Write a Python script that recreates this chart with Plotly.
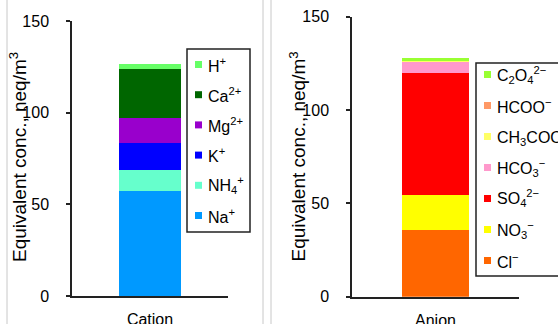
import plotly.graph_objects as go

# ---------------- data ----------------
cation_category = ["Cation"]
cation_names = ["Na<sup>+</sup>", "NH<sub>4</sub><sup>+</sup>", "K<sup>+</sup>",
                "Mg<sup>2+</sup>", "Ca<sup>2+</sup>", "H<sup>+</sup>"]
cation_values = [57.2, 11.7, 14.4, 13.8, 26.7, 2.7]
cation_colors = ["#0099FF", "#66FFCC", "#0000FF", "#9900CC", "#006600", "#66FF66"]

anion_category = ["Anion"]
anion_names = ["Cl<sup>−</sup>", "NO<sub>3</sub><sup>−</sup>", "SO<sub>4</sub><sup>2−</sup>",
               "HCO<sub>3</sub><sup>−</sup>", "CH<sub>3</sub>COO<sup>−</sup>",
               "HCOO<sup>−</sup>", "C<sub>2</sub>O<sub>4</sub><sup>2−</sup>"]
anion_values = [35.7, 18.6, 65.4, 6.7, 0.1, 0.2, 1.0]
anion_colors = ["#FF6600", "#FFFF00", "#FF0000", "#FF99CC", "#FFFF66", "#FF9966", "#99FF33"]

y_ticks = [0, 50, 100, 150]
y_title = "Equivalent conc., neq/m<sup>3</sup>"

# ---------------- layout helpers ----------------
W, H = 558, 324
FONT = "Arial, Liberation Sans, sans-serif"


def px(x):
    return x / W


def py(y):
    return 1 - y / H


fig = go.Figure()

for name, val, col in zip(cation_names, cation_values, cation_colors):
    fig.add_trace(go.Bar(x=cation_category, y=[val], name=name, marker_color=col,
                         marker_line_width=0, width=0.4, xaxis="x", yaxis="y",
                         showlegend=False))
for name, val, col in zip(anion_names, anion_values, anion_colors):
    fig.add_trace(go.Bar(x=anion_category, y=[val], name=name, marker_color=col,
                         marker_line_width=0, width=0.4, xaxis="x2", yaxis="y2",
                         showlegend=False))

axis_common = dict(showline=True, linecolor="#222222", linewidth=1.5, showgrid=False,
                   zeroline=False, tickfont=dict(family=FONT, size=16, color="#000000"))

fig.update_layout(
    width=W, height=H,
    margin=dict(l=0, r=0, t=0, b=0, autoexpand=False),
    paper_bgcolor="white", plot_bgcolor="white",
    barmode="stack", showlegend=False,
    xaxis=dict(domain=[px(72), px(228)], range=[-0.5, 0.5], anchor="y",
               ticks="", ticklabelstandoff=8, **axis_common),
    yaxis=dict(domain=[py(296), py(21)], range=[0, 150], anchor="x",
               tickvals=y_ticks, ticks="outside", ticklen=4, tickwidth=1.5,
               tickcolor="#222222", ticklabelstandoff=14, **axis_common),
    xaxis2=dict(domain=[px(352), px(519)], range=[-0.5, 0.5], anchor="y2",
                ticks="", ticklabelstandoff=8, **axis_common),
    yaxis2=dict(domain=[py(296.7), py(16.7)], range=[0, 150], anchor="x2",
                tickvals=y_ticks, ticks="outside", ticklen=4, tickwidth=1.5,
                tickcolor="#222222", ticklabelstandoff=14, **axis_common),
)

shapes = []
annotations = []

# chart-area borders (light grey separators)
for xl in (7, 263, 271):
    shapes.append(dict(type="line", xref="paper", yref="paper", x0=px(xl), x1=px(xl),
                       y0=0, y1=1, line=dict(color="#C8C8C8", width=1)))

# axis titles
for xc in (18, 297.5):
    annotations.append(dict(text=y_title, xref="paper", yref="paper", x=px(xc), y=py(157),
                            xanchor="center", yanchor="middle", textangle=-90,
                            showarrow=False,
                            font=dict(family=FONT, size=19, color="#000000")))


def add_legend(names, colors, box, first_y, step):
    x0, y0, x1, y1 = box
    shapes.append(dict(type="rect", xref="paper", yref="paper", x0=px(x0), x1=px(x1),
                       y0=py(y1), y1=py(y0), line=dict(color="#222222", width=1.5),
                       fillcolor="white", layer="above"))
    for i, (nm, col) in enumerate(zip(reversed(names), reversed(colors))):
        yc = first_y + i * step
        shapes.append(dict(type="rect", xref="paper", yref="paper",
                           x0=px(x0 + 8), x1=px(x0 + 15), y0=py(yc + 3.5), y1=py(yc - 3.5),
                           line=dict(width=0), fillcolor=col, layer="above"))
        annotations.append(dict(text=nm, xref="paper", yref="paper", x=px(x0 + 19),
                                y=py(yc), xanchor="left", yanchor="middle",
                                showarrow=False,
                                font=dict(family=FONT, size=16, color="#000000")))


add_legend(cation_names, cation_colors, (187, 49, 250, 232), 64.5, 30.2)
add_legend(anion_names, anion_colors, (476, 63, 640, 276), 74.5, 31.0)

fig.update_layout(shapes=shapes, annotations=annotations)

fig.write_html("out.html", config={"displayModeBar": False},
               post_script="document.body.style.margin='0';document.body.style.padding='0';")
